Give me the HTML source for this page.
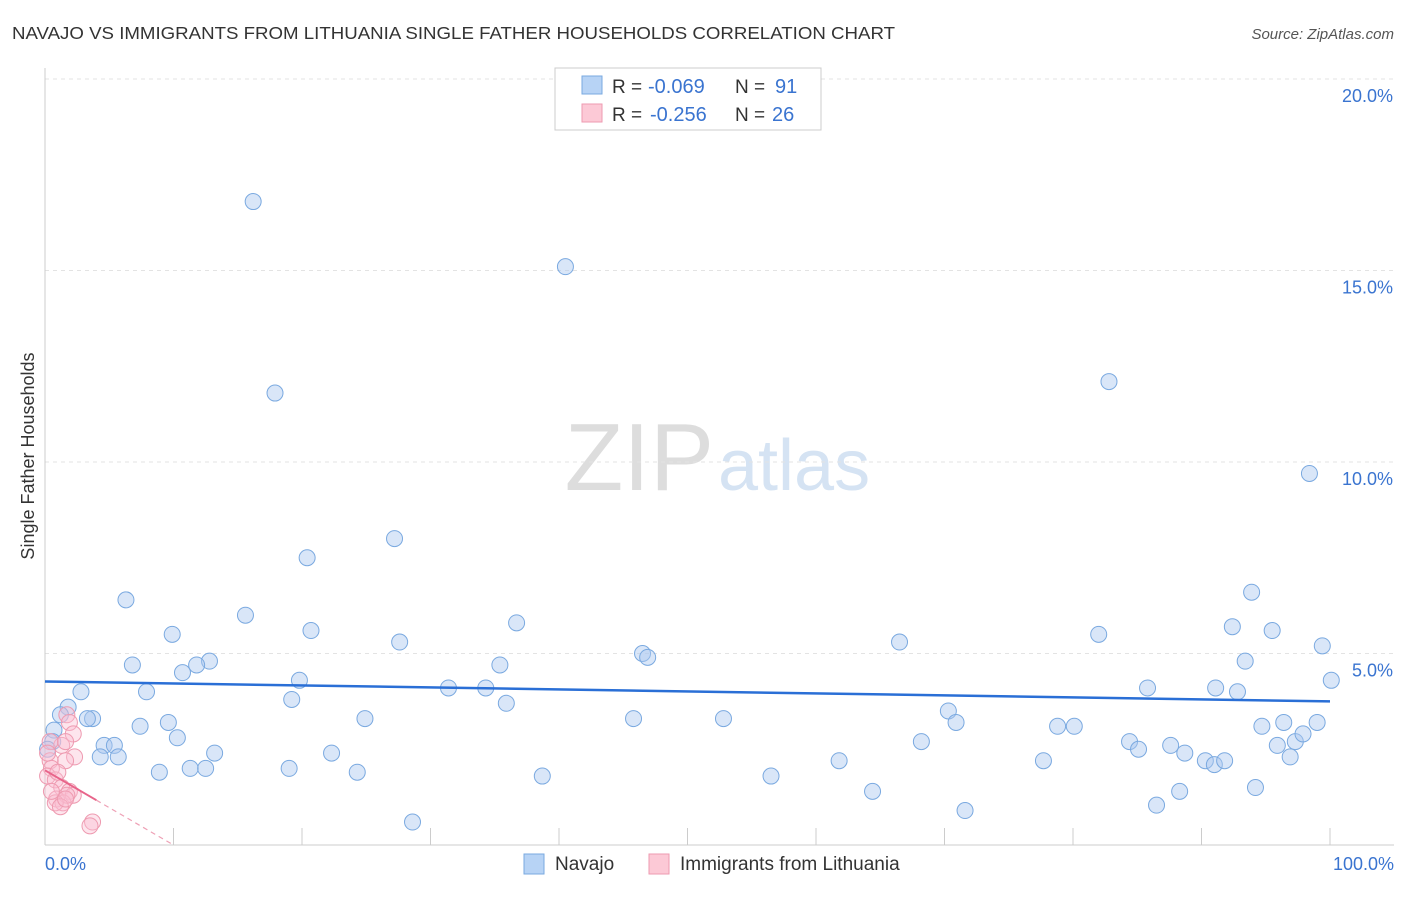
<!DOCTYPE html>
<html><head><meta charset="utf-8"><style>
body{margin:0;background:#fff;font-family:"Liberation Sans",sans-serif;}
svg text{font-family:"Liberation Sans",sans-serif;}
</style></head><body>
<svg id="chart" width="1406" height="892">
<text x="12" y="39" font-size="17.5" fill="#333" textLength="883" lengthAdjust="spacingAndGlyphs">NAVAJO VS IMMIGRANTS FROM LITHUANIA SINGLE FATHER HOUSEHOLDS CORRELATION CHART</text>
<text x="1394" y="39" font-size="15" fill="#555" font-style="italic" text-anchor="end">Source: ZipAtlas.com</text>
<text x="714" y="490" font-size="96" fill="#ddd" text-anchor="end" font-family="Liberation Serif">ZIP</text>
<text x="718" y="490" font-size="72" fill="#d5e3f3">atlas</text>
<text transform="translate(34,456) rotate(-90)" font-size="18" fill="#333" text-anchor="middle">Single Father Households</text>
<g id="grid"></g><g id="pts"></g><g id="lines"></g>
<rect x="555" y="68" width="266" height="62" fill="#fff" stroke="#ccc"/>
<rect x="582" y="76" width="20" height="18" fill="#b7d3f5" stroke="#7aa9e0"/>
<text x="612" y="93" font-size="19" fill="#333">R =</text>
<text x="648" y="93" font-size="20" fill="#3a74d0">-0.069</text>
<text x="735" y="93" font-size="19" fill="#333">N =</text>
<text x="775" y="93" font-size="20" fill="#3a74d0">91</text>
<rect x="582" y="104" width="20" height="18" fill="#fcc9d6" stroke="#ee9ab0"/>
<text x="612" y="121" font-size="19" fill="#333">R =</text>
<text x="650" y="121" font-size="20" fill="#3a74d0">-0.256</text>
<text x="735" y="121" font-size="19" fill="#333">N =</text>
<text x="772" y="121" font-size="20" fill="#3a74d0">26</text>
<text x="45" y="870" font-size="18" fill="#3a74d0">0.0%</text>
<text x="1394" y="870" font-size="18" fill="#3a74d0" text-anchor="end">100.0%</text>
<rect x="524" y="854" width="20" height="20" fill="#b7d3f5" stroke="#7aa9e0"/>
<text x="555" y="870" font-size="19" fill="#333">Navajo</text>
<rect x="649" y="854" width="20" height="20" fill="#fcc9d6" stroke="#ee9ab0"/>
<text x="680" y="870" font-size="19" fill="#333">Immigrants from Lithuania</text>
</svg>
<script>
const yTicks=[5,10,15,20];
const yTickLabels=["5.0%","10.0%","15.0%","20.0%"];
const xTicks=[10,20,30,40,50,60,70,80,90,100];
const navajoX=[16.2,40.5,17.9,82.8,98.4,27.2,20.4,6.3,15.6,36.7,93.9,9.9,20.7,27.6,92.4,95.5,66.5,82.0,46.5,46.9,99.4,6.8,12.8,11.8,10.7,35.4,93.4,19.8,2.8,7.9,31.4,34.3,85.8,100.1,91.1,92.8,19.2,35.9,1.8,1.2,3.7,3.3,9.6,7.4,24.9,45.8,52.8,70.3,70.9,78.8,80.1,94.7,96.4,99.0,0.7,10.3,4.6,5.4,13.2,22.3,68.2,84.4,85.1,87.6,88.7,95.9,97.3,97.9,4.3,5.7,8.9,11.3,12.5,19.0,24.3,38.7,56.5,61.8,77.7,90.3,91.0,91.8,96.9,64.4,88.3,94.2,86.5,71.6,28.6,0.6,0.2];
const navajoY=[16.8,15.1,11.8,12.1,9.7,8.0,7.5,6.4,6.0,5.8,6.6,5.5,5.6,5.3,5.7,5.6,5.3,5.5,5.0,4.9,5.2,4.7,4.8,4.7,4.5,4.7,4.8,4.3,4.0,4.0,4.1,4.1,4.1,4.3,4.1,4.0,3.8,3.7,3.6,3.4,3.3,3.3,3.2,3.1,3.3,3.3,3.3,3.5,3.2,3.1,3.1,3.1,3.2,3.2,3.0,2.8,2.6,2.6,2.4,2.4,2.7,2.7,2.5,2.6,2.4,2.6,2.7,2.9,2.3,2.3,1.9,2.0,2.0,2.0,1.9,1.8,1.8,2.2,2.2,2.2,2.1,2.2,2.3,1.4,1.4,1.5,1.04,0.9,0.6,2.7,2.5];
const lithX=[1.7,1.9,2.2,1.3,0.4,2.3,1.6,0.4,0.5,0.2,0.8,1.3,1.9,2.2,0.9,1.4,1.7,0.8,1.2,3.7,3.5,0.5,1.6,0.2,1.0,1.6];
const lithY=[3.4,3.2,2.9,2.6,2.7,2.3,2.2,2.2,2.0,1.8,1.7,1.5,1.4,1.3,1.2,1.1,1.3,1.1,1.0,0.6,0.5,1.4,2.7,2.4,1.9,1.2];
const navTrend=[4.27,3.75];
const lithTrend=[1.95,1.17,0.0];
const X=v=>45+v*12.85, Y=v=>845-v*38.3;
const NS="http://www.w3.org/2000/svg";
function mk(p,t,a){const e=document.createElementNS(NS,t);for(const k in a)e.setAttribute(k,a[k]);p.appendChild(e);return e;}
const g=document.getElementById('grid'),pts=document.getElementById('pts'),ln=document.getElementById('lines');
yTicks.forEach((t,i)=>{
 const l=mk(g,'line',{x1:45,x2:1394,y1:Y(t),y2:Y(t),stroke:'#e3e3e3','stroke-dasharray':'4,4'});
 
 
 const tx=mk(g,'text',{x:1393,y:Y(t)+23,'font-size':18,fill:'#3a74d0','text-anchor':'end'});tx.textContent=yTickLabels[i];
 
 
});
const ax=mk(g,'line',{x1:45,x2:45,y1:68,y2:845,stroke:'#ccc'});


const bx=mk(g,'line',{x1:45,x2:1394,y1:845,y2:845,stroke:'#ccc'});


xTicks.forEach(t=>{const l=mk(g,'line',{x1:X(t),x2:X(t),y1:828,y2:845,stroke:'#ccc'});
 
 });
navajoX.forEach((v,i)=>{const c=mk(pts,'circle',{cx:X(v),cy:Y(navajoY[i]),r:8,fill:'rgba(170,200,240,0.45)',stroke:'#7aa9e0','stroke-width':1});
 
 });
lithX.forEach((v,i)=>{const c=mk(pts,'circle',{cx:X(v),cy:Y(lithY[i]),r:8,fill:'rgba(250,190,210,0.4)',stroke:'#ee9ab0','stroke-width':1});
 
 });
const t1=mk(ln,'line',{x1:X(0),y1:Y(navTrend[0]),x2:X(100),y2:Y(navTrend[1]),stroke:'#2a6fd6','stroke-width':2.5});


const t2=mk(ln,'line',{x1:X(0),y1:Y(lithTrend[0]),x2:X(4),y2:Y(lithTrend[1]),stroke:'#e8648a','stroke-width':2});


const t3=mk(ln,'line',{x1:X(4),y1:Y(lithTrend[1]),x2:X(10),y2:Y(lithTrend[2]),stroke:'#eea0b5','stroke-width':1.2,'stroke-dasharray':'5,4'});


</script>
</body></html>
